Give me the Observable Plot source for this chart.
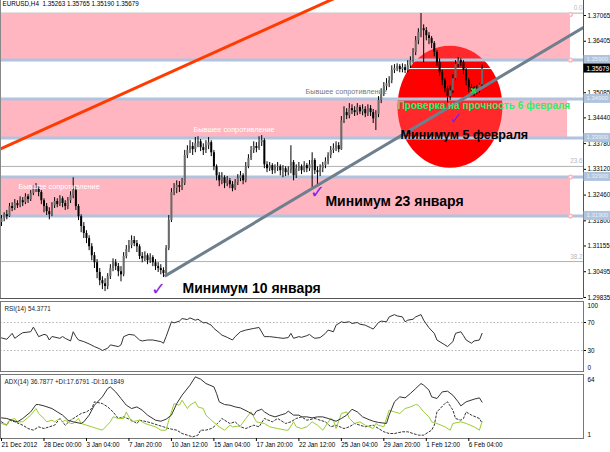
<!DOCTYPE html>
<html><head><meta charset="utf-8">
<script src="https://cdn.jsdelivr.net/npm/d3@7"></script>
<script src="https://cdn.jsdelivr.net/npm/@observablehq/plot@0.6"></script>
<style>
body{margin:0;background:#fff;}
#chart{position:relative;width:610px;height:452px;overflow:hidden;background:#fff;}
</style></head><body><div id="chart"></div>
<script>
// ---------- DATA ----------
const title = "EURUSD,H4  1.35263 1.35765 1.35190 1.35679";
const firstOpen = 1.3173;
const closes = [
1.3183,1.3193,1.3188,1.3214,1.3209,1.3222,1.3216,1.3229,1.3224,1.3239,
1.3232,1.3247,1.3258,1.3265,1.3250,1.3229,1.3214,1.3201,1.3193,1.3216,
1.3227,1.3219,1.3234,1.3222,1.3214,1.3229,1.3242,1.3255,1.3214,1.3188,
1.3163,1.3145,1.3132,1.3111,1.3088,1.3070,1.3045,1.3024,1.3016,1.3009,
1.3034,1.3055,1.3070,1.3060,1.3047,1.3039,1.3086,1.3104,1.3114,1.3127,
1.3119,1.3111,1.3086,1.3080,1.3088,1.3075,1.3083,1.3070,1.3060,1.3055,
1.3050,1.3042,1.3106,1.3178,1.3250,1.3260,1.3268,1.3263,1.3273,1.3345,
1.3358,1.3368,1.3360,1.3375,1.3380,1.3365,1.3358,1.3370,1.3378,1.3352,
1.3316,1.3293,1.3280,1.3288,1.3273,1.3280,1.3270,1.3260,1.3275,1.3286,
1.3293,1.3280,1.3316,1.3337,1.3358,1.3368,1.3363,1.3378,1.3383,1.3321,
1.3311,1.3319,1.3306,1.3314,1.3316,1.3306,1.3311,1.3301,1.3306,1.3327,
1.3293,1.3311,1.3316,1.3306,1.3319,1.3311,1.3321,1.3332,1.3306,1.3301,
1.3311,1.3319,1.3329,1.3345,1.3358,1.3363,1.3370,1.3360,1.3434,1.3455,
1.3447,1.3465,1.3460,1.3455,1.3468,1.3457,1.3463,1.3452,1.3465,1.3455,
1.3439,1.3450,1.3486,1.3501,1.3522,1.3529,1.3537,1.3563,1.3568,1.3573,
1.3565,1.3570,1.3563,1.3575,1.3588,1.3609,1.3639,1.3660,1.3670,1.3665,
1.3652,1.3645,1.3632,1.3609,1.3583,1.3557,1.3537,1.3516,1.3496,1.3511,
1.3542,1.3578,1.3588,1.3583,1.3563,1.3537,1.3519,1.3511,1.3506,1.3514,
1.3526,1.3568];
const highs = [
1.3191,1.3198,1.3204,1.3222,1.3224,1.3232,1.3229,1.3239,1.3237,1.3247,
1.3245,1.3255,1.3268,1.3273,1.3265,1.3255,1.3234,1.3222,1.3211,1.3224,
1.3237,1.3234,1.3242,1.3239,1.3229,1.3237,1.3252,1.3288,1.3265,1.3219,
1.3193,1.3173,1.3152,1.3139,1.3119,1.3096,1.3078,1.3055,1.3034,1.3029,
1.3042,1.3065,1.3080,1.3078,1.3068,1.3060,1.3096,1.3114,1.3127,1.3139,
1.3137,1.3127,1.3116,1.3096,1.3098,1.3093,1.3093,1.3088,1.3078,1.3070,
1.3065,1.3057,1.3114,1.3191,1.3260,1.3273,1.3280,1.3278,1.3286,1.3358,
1.3370,1.3383,1.3378,1.3391,1.3393,1.3386,1.3375,1.3383,1.3391,1.3383,
1.3358,1.3321,1.3301,1.3301,1.3293,1.3291,1.3286,1.3278,1.3283,1.3296,
1.3304,1.3298,1.3327,1.3347,1.3368,1.3380,1.3378,1.3393,1.3396,1.3388,
1.3329,1.3327,1.3324,1.3321,1.3327,1.3321,1.3319,1.3316,1.3316,1.3370,
1.3332,1.3321,1.3327,1.3321,1.3329,1.3324,1.3332,1.3352,1.3337,1.3316,
1.3321,1.3327,1.3339,1.3352,1.3368,1.3375,1.3380,1.3378,1.3445,1.3470,
1.3465,1.3478,1.3475,1.3470,1.3478,1.3473,1.3475,1.3470,1.3475,1.3473,
1.3463,1.3460,1.3496,1.3516,1.3532,1.3542,1.3547,1.3575,1.3578,1.3580,
1.3578,1.3580,1.3578,1.3588,1.3598,1.3619,1.3650,1.3670,1.3709,1.3680,
1.3673,1.3660,1.3650,1.3637,1.3614,1.3593,1.3563,1.3542,1.3522,1.3524,
1.3552,1.3588,1.3596,1.3593,1.3588,1.3568,1.3542,1.3527,1.3522,1.3524,
1.3530,1.3577];
const lows = [
1.3163,1.3175,1.3180,1.3186,1.3201,1.3204,1.3209,1.3211,1.3214,1.3219,
1.3222,1.3227,1.3242,1.3250,1.3239,1.3219,1.3198,1.3191,1.3180,1.3188,
1.3209,1.3211,1.3214,1.3211,1.3204,1.3206,1.3222,1.3234,1.3204,1.3178,
1.3147,1.3132,1.3119,1.3101,1.3075,1.3055,1.3029,1.3011,1.3001,1.2996,
1.3001,1.3027,1.3047,1.3050,1.3034,1.3021,1.3034,1.3080,1.3096,1.3106,
1.3111,1.3096,1.3078,1.3070,1.3073,1.3065,1.3068,1.3060,1.3050,1.3045,
1.3039,1.3032,1.3037,1.3101,1.3173,1.3242,1.3247,1.3250,1.3255,1.3268,
1.3337,1.3350,1.3345,1.3352,1.3365,1.3355,1.3345,1.3350,1.3360,1.3342,
1.3306,1.3280,1.3265,1.3270,1.3260,1.3265,1.3260,1.3252,1.3255,1.3268,
1.3278,1.3270,1.3275,1.3311,1.3332,1.3350,1.3352,1.3358,1.3368,1.3311,
1.3301,1.3304,1.3296,1.3298,1.3304,1.3293,1.3288,1.3291,1.3293,1.3298,
1.3280,1.3286,1.3304,1.3296,1.3301,1.3301,1.3304,1.3263,1.3296,1.3263,
1.3291,1.3301,1.3311,1.3321,1.3337,1.3350,1.3355,1.3352,1.3358,1.3427,
1.3437,1.3439,1.3450,1.3445,1.3447,1.3450,1.3447,1.3442,1.3445,1.3445,
1.3427,1.3409,1.3442,1.3478,1.3496,1.3511,1.3519,1.3529,1.3555,1.3560,
1.3557,1.3557,1.3555,1.3557,1.3568,1.3580,1.3601,1.3629,1.3647,1.3583,
1.3639,1.3629,1.3619,1.3598,1.3573,1.3547,1.3524,1.3506,1.3480,1.3486,
1.3504,1.3537,1.3570,1.3573,1.3552,1.3524,1.3506,1.3498,1.3496,1.3501,
1.3504,1.3519];

const dateTicks = [0,16,32,48,64,80,96,112,128,144,160,176];
const dateLabels = ["21 Dec 2012","28 Dec 00:00","3 Jan 04:00","7 Jan 20:00","10 Jan 12:00","15 Jan 04:00","17 Jan 20:00","22 Jan 12:00","25 Jan 04:00","29 Jan 20:00","1 Feb 12:00","6 Feb 04:00"];
const priceTicks = [1.37065,1.36405,1.35085,1.34440,1.33780,1.33120,1.32460,1.31800,1.31155,1.30495,1.29835];
const levelLines = [1.35900,1.34900,1.33900,1.32900,1.31900];
const lastPrice = 1.35679;
const zoneLow = [1.35900,1.33900,1.31900];
const zoneHigh = [1.37065,1.34900,1.32900];
const zoneEnd = [214.3,213.2,214.3];
const fibNames = ["0.0","23.6","38.2"];
const fibPrices = [1.3710,1.3317,1.3073];
const redTrend = [[-1,1.3360],[130,1.3762]];
const greyTrend = [[61.8,1.3037],[225,1.3697]];
const ellipseCenter = [168.9,1.3470];
const minNotes = ["Минимум 10 января","Минимум 23 января","Минимум 5 февраля"];
const minNoteAt = [[68.2,1.3004],[122,1.3227],[150.3,1.3398]];
const checkAt = [[59.1,1.3001],[119,1.3250],[171,1.3438]];
const testNote = "Проверка на прочность 6 февраля";
const testNoteAt = [149.2,1.3473];
const testMarkAt = [177.8,1.3510];
const formerRes = "Бывшее сопротивление";
const formerResAt = [[72.3,1.3411],[6.4,1.3265],[114.5,1.3509]];
const rsiLabel = "RSI(14) 54.3771";
const rsi = [[0,48],[2,46],[4,54.5],[5,47.4],[7,53],[8,55.4],[11,56.8],[12,63.4],[13,56.8],[14,49.8],[16,53],[17,52],[18,45],[19,50],[22,47.4],[23,50],[24,47.4],[26,43.6],[27,56.8],[28,50],[29,45],[31,42.7],[33,39.4],[35,35.6],[37,32.4],[38,30],[40,33.3],[41,38],[44,35.6],[45,38],[46,49.8],[48,53],[50,52],[52,45],[53,43.6],[55,45],[57,45],[60,42.7],[61,40.4],[62,49.8],[64,71],[65,69.5],[67,72],[68,75.6],[70,74.2],[71,76.6],[73,73.3],[74,74.7],[76,69.5],[77,70],[79,66.2],[80,61.5],[82,55.4],[83,52],[85,48.8],[87,45],[88,49.8],[90,56.8],[92,59.2],[95,61.5],[97,62.9],[99,49.8],[101,49.8],[104,48.4],[106,47.4],[108,48.4],[109,54.5],[110,47.4],[112,49.8],[113,48.8],[115,51.2],[116,53],[117,49.8],[118,47.4],[120,48.4],[122,54.5],[123,59.2],[125,56.8],[126,66.2],[128,71],[129,70],[131,71],[132,68.6],[134,70],[135,67.6],[137,66.2],[139,62.5],[140,60.6],[142,70],[143,72],[145,71],[146,78],[148,81.3],[149,79.4],[151,78],[152,71],[153,73.3],[155,74.7],[156,78],[158,81.3],[159,73.3],[161,62.5],[163,54.5],[164,45],[167,38],[168,35.6],[170,42.7],[171,54.5],[173,56.8],[174,51.2],[175,45],[177,40.4],[178,43.6],[180,45],[181,54.4]];
const adxLabel = "ADX(14) 36.7877 +DI:17.6791 -DI:16.1849";
const adx = [[0,21.3],[2,20.7],[4,19],[6,17.4],[8,20.7],[11,27.2],[13,34.4],[14,34.4],[16,33.1],[19,30.5],[21,27.2],[23,24],[25,19],[27,17.4],[30,15.8],[31,17.4],[33,24],[35,33.8],[38,42],[40,50.2],[41,51.8],[43,46.9],[45,40.4],[47,33.8],[49,30.5],[51,32.1],[53,28.9],[55,24],[58,19],[60,18],[62,20],[64,24],[66,35.4],[68,43.6],[71,53.5],[73,61.7],[75,59.4],[77,55.1],[80,51.8],[81,45.3],[82,37.1],[84,34.4],[86,33.8],[88,32.1],[90,31.1],[93,27.2],[95,24],[96,27.9],[98,29.8],[99,27.2],[101,24],[103,22.3],[105,24],[107,25.6],[108,27.9],[110,24],[112,24],[113,22.3],[115,22.3],[117,21.3],[119,22.3],[121,22.3],[123,20.7],[126,18],[128,20.7],[130,24],[132,29.8],[134,27.2],[136,22.3],[138,20],[140,18],[142,16.8],[145,15.8],[146,24],[148,37.1],[150,42],[152,41],[154,45.3],[156,50.2],[158,55.1],[159,53.5],[161,48.6],[162,42],[164,40.4],[166,46.9],[168,47.6],[170,43.6],[172,37.1],[173,33.1],[175,37.1],[178,39.7],[180,41],[181,36.8]];
const pdi = [[0,15.8],[2,14.1],[3,19],[5,20.7],[6,17.4],[8,17.4],[11,24],[13,30.5],[14,25.6],[16,20.7],[17,17.4],[19,19],[20,17.4],[22,20.7],[23,17.4],[24,19],[26,15.8],[27,15.8],[29,20.7],[30,15.8],[32,14.1],[34,12.5],[36,10.8],[38,9.2],[41,17.4],[42,22.3],[44,20.7],[46,20.7],[47,27.2],[49,17.4],[52,19],[54,15.8],[56,14.1],[58,12.5],[60,9.2],[62,9.2],[63,19],[65,35.4],[67,33.8],[68,38.7],[70,30.5],[71,33.8],[73,37.1],[74,32.1],[76,30.5],[77,24],[79,19],[82,12.5],[84,9.2],[86,14.1],[87,12.5],[90,13.4],[92,20.7],[94,27.2],[96,17.4],[99,15.8],[101,12.5],[104,10.8],[107,9.2],[108,9.2],[110,17.4],[111,12.5],[113,10.8],[115,12.5],[117,17.4],[119,14.1],[121,9.2],[124,20.7],[125,19],[126,10.8],[128,25.6],[130,27.2],[131,20.7],[133,15.8],[135,17.4],[137,14.1],[140,10.8],[141,15.8],[142,14.1],[144,12.5],[146,28.9],[148,27.2],[150,25.6],[152,30.5],[154,32.1],[156,34.4],[157,33.8],[159,27.2],[161,22.3],[162,17.4],[164,15.8],[167,12.5],[169,9.2],[170,15.8],[173,17.4],[175,15.8],[178,12.5],[180,9.2],[181,17.7]];
const mdi = [[0,17.4],[2,14.1],[3,19],[5,17.4],[8,14.1],[10,10.8],[12,9.2],[14,12.5],[16,10.8],[18,12.5],[20,14.1],[22,20.7],[24,14.1],[26,19],[28,22.3],[30,25.6],[32,27.2],[34,30.5],[35,37.1],[38,35.4],[40,32.1],[42,27.2],[44,20.7],[46,22.3],[49,19],[51,15.8],[52,19],[55,17.4],[57,15.8],[59,14.1],[61,12.5],[63,10.8],[66,9.2],[68,5.9],[70,4.3],[72,2.6],[74,4.3],[75,9.2],[77,9.2],[79,10.8],[80,12.5],[82,17.4],[83,20.7],[85,17.4],[86,15.8],[88,17.4],[90,12.5],[92,10.8],[95,14.1],[97,12.5],[99,20.7],[102,17.4],[104,20.7],[107,15.8],[109,17.4],[111,20.7],[113,22.3],[115,19],[118,20.7],[120,19],[122,17.4],[124,12.5],[126,14.1],[129,10.8],[131,12.5],[133,15.8],[135,14.1],[137,12.5],[140,14.1],[142,10.8],[144,7.6],[146,5.9],[148,5.9],[151,7.6],[153,7.6],[155,5.9],[157,4.3],[159,4.3],[162,9.2],[163,14.1],[164,27.2],[167,35.4],[168,37.1],[170,28.9],[171,20.7],[173,19],[174,20.7],[175,27.2],[177,24],[180,20.7],[181,16.2]];

// ---------- BUILD ----------
const bars = closes.map((c, i) => ({i, open: i === 0 ? firstOpen : closes[i-1], close: c, high: highs[i], low: lows[i]}));
const zones = zoneLow.map((lo, k) => ({lo, hi: zoneHigh[k], end: zoneEnd[k]}));
const xDomain = [-0.38, 219.2];
const xR = xDomain[1];
const FONT = "'Liberation Sans', Arial, sans-serif";
const small = 6.3;
const box = 0.00115;

const K = 0.5522847498;
const ellipse = (fx, fy) => ({draw(ctx, size) {
  const r = Math.sqrt(size / Math.PI), rx = r * fx, ry = r * fy;
  ctx.moveTo(rx, 0);
  ctx.bezierCurveTo(rx, ry*K, rx*K, ry, 0, ry);
  ctx.bezierCurveTo(-rx*K, ry, -rx, ry*K, -rx, 0);
  ctx.bezierCurveTo(-rx, -ry*K, -rx*K, -ry, 0, -ry);
  ctx.bezierCurveTo(rx*K, -ry, rx, -ry*K, rx, 0);
  ctx.closePath();
}});

const pos = (top) => ({position: "absolute", left: "0px", top: top + "px", background: "transparent", overflow: "visible", fontFamily: FONT});
const chart = document.getElementById("chart");

const main = Plot.plot({
  width: 610, height: 299, marginTop: 0, marginBottom: 1, marginLeft: 0, marginRight: 27,
  style: pos(0),
  x: {domain: xDomain, axis: null},
  y: {domain: [1.29783, 1.37424], axis: null},
  marks: [
    Plot.rect(zones, {x1: () => -20, x2: "end", y1: "lo", y2: "hi", fill: "#FFB6C1", clip: true}),
    Plot.ruleY(fibPrices, {stroke: "#b0b0b0", strokeWidth: 1}),
    Plot.text(fibNames, {x: xR, y: (d, k) => fibPrices[k], text: d => d, textAnchor: "end", dx: -1, dy: -5, fill: "#b8b8b8", fontSize: small}),
    Plot.dot([ellipseCenter], {x: d => d[0], y: d => d[1], r: 57, symbol: ellipse(0.92, 1.07), fill: "#FF0000", stroke: "none"}),
    Plot.rect(zones, {x1: () => -20, x2: "end", y1: "lo", y2: "hi", fill: "#FFB6C1", fillOpacity: 0.22, clip: true}),
    Plot.ruleY(levelLines, {stroke: "#B0C4DE", strokeWidth: 3}),
    Plot.dot(zones.filter((z, k) => k !== 1).flatMap(z => [[z.end, z.lo], [z.end, z.hi]]), {x: d => d[0], y: d => d[1], r: 1.8, fill: "white", stroke: "#FFB6C1"}),
    Plot.ruleY([lastPrice], {stroke: "white", strokeWidth: 1}),
    Plot.ruleX(bars, {x: "i", y1: "low", y2: "high", stroke: "#000", strokeWidth: 1}),
    Plot.ruleX(bars, {x: "i", y1: "open", y2: "close", stroke: d => d.close >= d.open ? "#6a6a6a" : "#000", strokeWidth: 2}),
    Plot.line(redTrend, {x: d => d[0], y: d => d[1], stroke: "#FF3C00", strokeWidth: 3, clip: true}),
    Plot.line(greyTrend, {x: d => d[0], y: d => d[1], stroke: "#6E7F8E", strokeWidth: 3, clip: true}),
    Plot.text(formerResAt, {x: d => d[0], y: d => d[1], text: () => formerRes, textAnchor: "start", fill: (d, k) => k < 2 ? "white" : "#7a7a7a", fontSize: 7.3}),
    Plot.text(checkAt, {x: d => d[0], y: d => d[1], text: () => "✓", fill: "#8A1CF0", fontSize: (d, k) => k === 2 ? 16 : 18, fontFamily: "DejaVu Sans"}),
    Plot.text(minNoteAt, {x: d => d[0], y: d => d[1], text: (d, k) => minNotes[k], textAnchor: "start", fill: "#000", fontSize: (d, k) => k === 2 ? 12.5 : 14, fontWeight: "bold"}),
    Plot.text([testNoteAt], {x: d => d[0], y: d => d[1], text: () => testNote, textAnchor: "start", fill: "#2BF06A", fontSize: 10, fontWeight: "bold"}),
    Plot.text([testMarkAt], {x: d => d[0], y: d => d[1], text: () => "✖", fill: "#22D84A", fontSize: 9, fontFamily: "DejaVu Sans"}),
    Plot.text([title], {frameAnchor: "top-left", dx: 2, dy: 1, lineAnchor: "top", fontSize: small, fill: "#000"}),
    Plot.ruleX([xDomain[0]], {stroke: "#888"}),
    Plot.ruleX([xR], {stroke: "#555"}),
    Plot.ruleY([1.29783], {stroke: "#555", x1: xDomain[0], x2: xR}),
    Plot.axisY(priceTicks, {anchor: "right", tickSize: 2, tickPadding: 2, fontSize: small, dy: 1, tickFormat: d => d.toFixed(5)}),
    Plot.rect(levelLines, {x1: xR + 0.2, x2: xR + 10.3, y1: d => d - box, y2: d => d + box, fill: "#B0C4DE", clip: false}),
    Plot.text(levelLines, {x: xR, y: d => d, dx: 3, dy: -0.5, text: d => d.toFixed(5), textAnchor: "start", fill: "#EAF0F8", fontSize: 6}),
    Plot.rect([lastPrice], {x1: xR + 0.2, x2: xR + 10.3, y1: d => d - box, y2: d => d + box, fill: "#000", clip: false}),
    Plot.text([lastPrice], {x: xR, y: d => d, dx: 3, text: d => d.toFixed(5), textAnchor: "start", fill: "#fff", fontSize: small})
  ]
});
chart.appendChild(main);

const rsiPlot = Plot.plot({
  width: 610, height: 72, marginTop: 1, marginBottom: 1, marginLeft: 0, marginRight: 27,
  style: pos(300),
  x: {domain: xDomain, axis: null},
  y: {domain: [0, 100], axis: null},
  marks: [
    Plot.ruleY([70, 30], {stroke: "#b5b5b5", strokeDasharray: "1.5,2"}),
    Plot.line(rsi, {x: d => d[0], y: d => d[1], stroke: "#333", strokeWidth: 1}),
    Plot.text([rsiLabel], {frameAnchor: "top-left", dx: 4, dy: 5, lineAnchor: "top", fontSize: small, fill: "#222"}),
    Plot.frame({stroke: "#777"}),
    Plot.axisY([70, 30], {anchor: "right", tickSize: 2, tickPadding: 2, fontSize: small}),
    Plot.text([100], {x: xR, y: d => d, dx: 4, dy: 4, text: d => String(d), textAnchor: "start", fontSize: small}),
    Plot.text([0], {x: xR, y: d => d, dx: 4, dy: -4, text: d => String(d), textAnchor: "start", fontSize: small})
  ]
});
chart.appendChild(rsiPlot);

const adxPlot = Plot.plot({
  width: 610, height: 80, marginTop: 2, marginBottom: 14, marginLeft: 0, marginRight: 27,
  style: pos(372),
  x: {domain: xDomain, axis: null},
  y: {domain: [1, 64], axis: null},
  marks: [
    Plot.line(mdi, {x: d => d[0], y: d => d[1], stroke: "#333", strokeWidth: 1, strokeDasharray: "2,2"}),
    Plot.line(pdi, {x: d => d[0], y: d => d[1], stroke: "#9ACD32", strokeWidth: 1}),
    Plot.line(adx, {x: d => d[0], y: d => d[1], stroke: "#333", strokeWidth: 1}),
    Plot.text([adxLabel], {frameAnchor: "top-left", dx: 4, dy: 5, lineAnchor: "top", fontSize: small, fill: "#222"}),
    Plot.frame({stroke: "#777"}),
    Plot.text([64], {x: xR, y: d => d, dx: 4, dy: 5, text: d => String(d), textAnchor: "start", fontSize: small}),
    Plot.text([1], {x: xR, y: d => d, dx: 4, dy: -4, text: d => String(d), textAnchor: "start", fontSize: small}),
    Plot.axisX(dateTicks, {anchor: "bottom", tickSize: 3, tickPadding: 1, textAnchor: "start", fontSize: small, tickFormat: d => dateLabels[dateTicks.indexOf(d)]})
  ]
});
chart.appendChild(adxPlot);
</script></body></html>
